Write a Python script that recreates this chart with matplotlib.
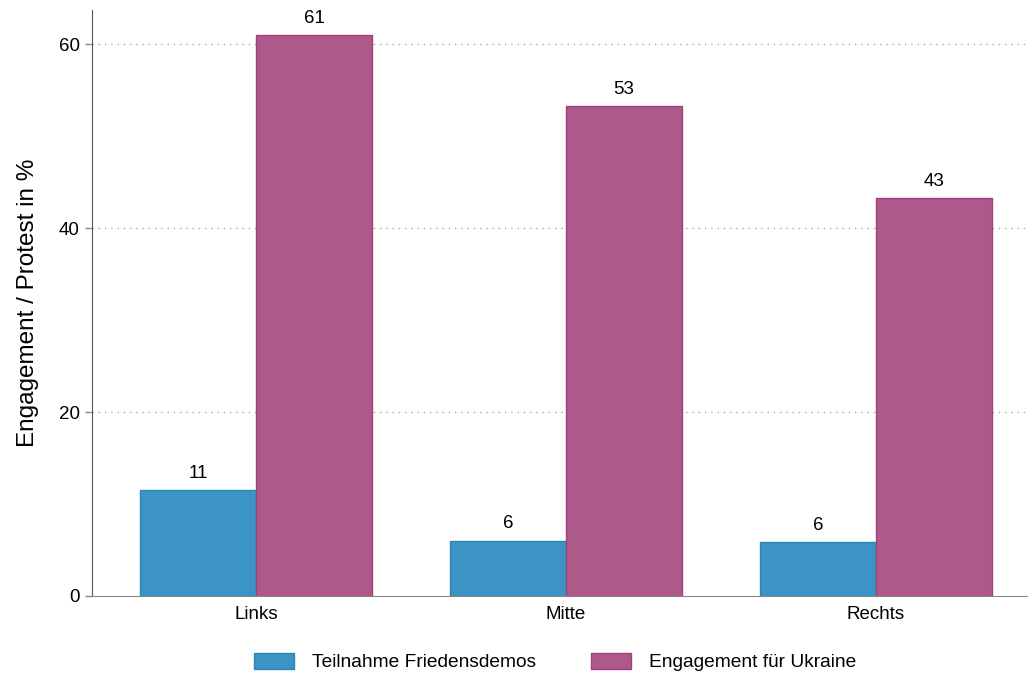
import matplotlib
matplotlib.use("Agg")
import matplotlib.pyplot as plt
import numpy as np

categories = ["Links", "Mitte", "Rechts"]
series_names = ["Teilnahme Friedensdemos", "Engagement für Ukraine"]
friedensdemos = [11.5, 6.0, 5.85]
ukraine = [61.0, 53.25, 43.25]
labels_fd = ["11", "6", "6"]
labels_uk = ["61", "53", "43"]
yticks = [0, 20, 40, 60]

plt.rcParams['font.family'] = ['Liberation Sans', 'DejaVu Sans']

fig = plt.figure(figsize=(10.3, 6.75), dpi=100)
ax = fig.add_axes([92/1030, 79/675, (1027-92)/1030, (596-10)/675])

x = np.arange(len(categories))
w = 0.374
b1 = ax.bar(x - w/2, friedensdemos, w, color="#3b94c3", edgecolor="#2b85b5", linewidth=1, label=series_names[0], zorder=3)
b2 = ax.bar(x + w/2, ukraine, w, color="#ad5a8b", edgecolor="#a23f7c", linewidth=1, label=series_names[1], zorder=3)

fs = 13.5
for rect, lab in zip(b1, labels_fd):
    ax.annotate(lab, (rect.get_x() + rect.get_width()/2, rect.get_height()), xytext=(0, 6),
                textcoords="offset points", ha="center", va="bottom", fontsize=fs)
for rect, lab in zip(b2, labels_uk):
    ax.annotate(lab, (rect.get_x() + rect.get_width()/2, rect.get_height()), xytext=(0, 6),
                textcoords="offset points", ha="center", va="bottom", fontsize=fs)

ax.set_xlim(-0.529, 2.487)
ax.set_ylim(0, 63.7)
ax.set_yticks(yticks)
ax.set_yticklabels([str(t) for t in yticks], fontsize=fs)
ax.set_xticks(x)
ax.set_xticklabels(categories, fontsize=fs)
ax.tick_params(axis='x', length=0, pad=7)
ax.tick_params(axis='y', length=5, color="#888888", width=1, pad=4)
ax.set_ylabel("Engagement / Protest in %", fontsize=17.5, labelpad=14)

for t in yticks[1:]:
    ax.axhline(t, color="#aaaaaa", linestyle=(0, (1, 3.5)), linewidth=1, zorder=1)

for s in ["top", "right"]:
    ax.spines[s].set_visible(False)
ax.spines["left"].set_color("#555555")
ax.spines["bottom"].set_color("#888888")

fig.legend(handles=[b1, b2], labels=series_names, loc="center", bbox_to_anchor=(555/1030, 1 - 662/675),
           ncol=2, frameon=False, fontsize=13.8, handlelength=2.1, handleheight=0.9, columnspacing=2.9, handletextpad=0.9)

fig.savefig("out.png", dpi=100)
